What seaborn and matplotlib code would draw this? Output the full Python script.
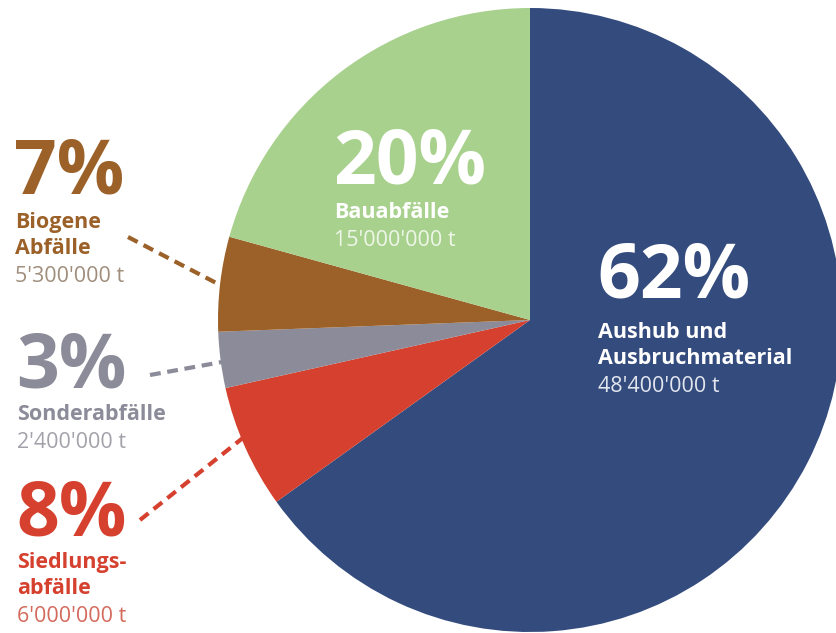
import matplotlib.pyplot as plt
import seaborn as sns

# categories, in drawing order (clockwise from the top)
categories = ['Aushub und\nAusbruchmaterial', 'Siedlungs-\nabfälle', 'Sonderabfälle',
              'Biogene\nAbfälle', 'Bauabfälle']
pct_labels = ['62%', '8%', '3%', '7%', '20%']
tonnage = ["48'400'000 t", "6'000'000 t", "2'400'000 t", "5'300'000 t", "15'000'000 t"]
# wedge sizes as drawn in the picture (share of the circle, %)
wedge_share = [65.1, 6.4, 2.9, 4.9, 20.7]

colors = ['#344b7d', '#d6412f', '#8b8b99', '#9b6129', '#a9d18e']
pct_colors = ['white', '#d6412f', '#8b8b99', '#9b6129', 'white']
ton_colors = ['#e2e6ef', '#d46a5c', '#a2a2aa', '#a08e7c', '#eef6e8']


def main():
    sns.set_theme(style='white')
    plt.rcParams['font.family'] = ['Open Sans', 'DejaVu Sans']

    W, H = 836, 633
    fig = plt.figure(figsize=(W / 100, H / 100), dpi=100)
    ax = fig.add_axes([0, 0, 1, 1])
    ax.invert_yaxis()

    ax.pie(wedge_share, colors=colors, startangle=-90, counterclock=True,
           center=(530, 320), radius=312, wedgeprops=dict(linewidth=0))
    ax.set_xlim(0, W)
    ax.set_ylim(H, 0)
    ax.set_axis_off()

    # label anchors: x, baseline of big percent, baseline of first name line
    spots = {
        0: (597, 298, 338),
        1: (16, 535, 568),
        2: (16, 388, 420),
        3: (14, 193, 228),
        4: (333, 184, 218),
    }
    big = 54
    small = 15.5
    line = 25.5
    for i, (x, yb, yn) in spots.items():
        ax.text(x, yb, pct_labels[i], fontsize=big, fontweight='bold',
                color=pct_colors[i], va='baseline', ha='left')
        lines = categories[i].split('\n')
        for k, ln in enumerate(lines):
            ax.text(x + 1, yn + k * line, ln, fontsize=small, fontweight='bold',
                    color=pct_colors[i], va='baseline', ha='left')
        ax.text(x + 1, yn + len(lines) * line + 3, tonnage[i], fontsize=small,
                color=ton_colors[i], va='baseline', ha='left')

    # dashed leader lines
    leaders = [
        ((128, 237), (222, 286), colors[3]),
        ((150, 375), (222, 362), colors[2]),
        ((140, 520), (244, 437), colors[1]),
    ]
    for (x0, y0), (x1, y1), c in leaders:
        ax.plot([x0, x1], [y0, y1], color=c, linewidth=3, linestyle=(0, (2.6, 1.6)),
                solid_capstyle='butt', dash_capstyle='butt')

    fig.savefig('out.png', dpi=100)


if __name__ == '__main__':
    main()
